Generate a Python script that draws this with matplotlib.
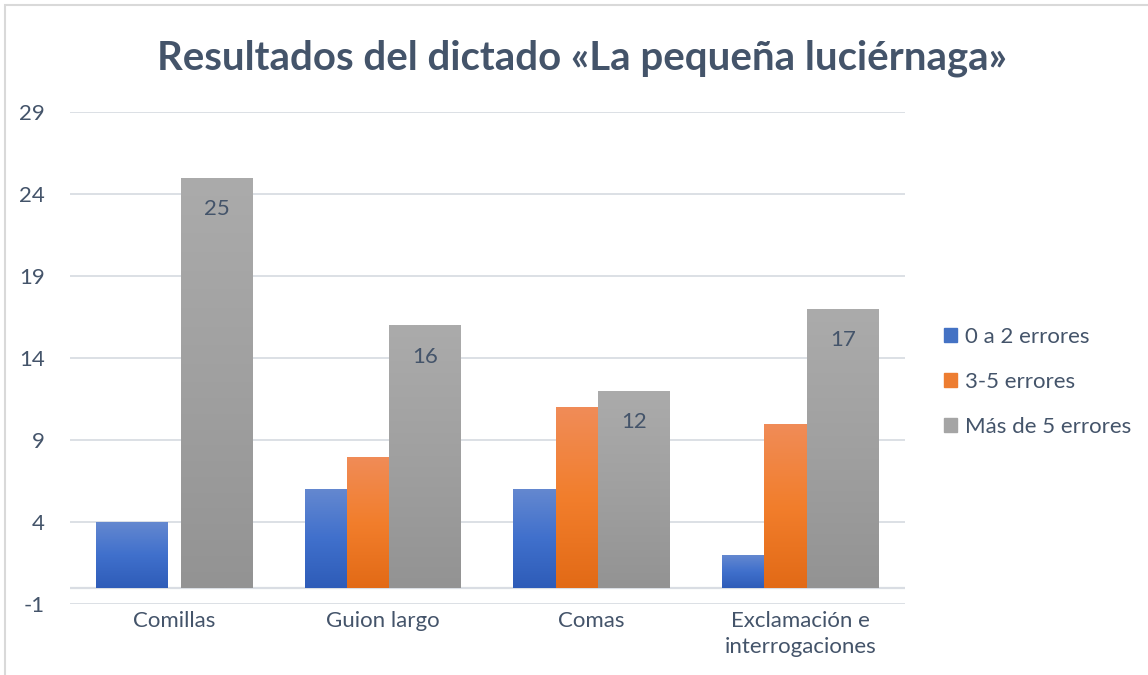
import numpy as np
import matplotlib
matplotlib.use("Agg")
import matplotlib.pyplot as plt
from matplotlib.colors import LinearSegmentedColormap
from matplotlib.patches import Rectangle

plt.rcParams['font.family'] = ['Lato', 'DejaVu Sans']
plt.rcParams['axes.unicode_minus'] = False

categories = ["Comillas", "Guion largo", "Comas", "Exclamación e\ninterrogaciones"]
series_names = ["0 a 2 errores", "3-5 errores", "Más de 5 errores"]
errors_0_2 = [4, 6, 6, 2]
errors_3_5 = [0, 8, 11, 10]
errors_more5 = [25, 16, 12, 17]
y_ticks = [-1, 4, 9, 14, 19, 24, 29]

TEXT = "#44546a"
GRID = "#d9dde3"

# top colour, middle, bottom colour of each bar gradient
gradients = [
    ("#6488d0", "#4070cc", "#2e5cb8"),
    ("#f08c58", "#f27e2c", "#e26a16"),
    ("#ababab", "#a0a0a0", "#939393"),
]
legend_colors = ["#4472c4", "#ed7d31", "#a5a5a5"]


def gradient_bars(ax, bars, colors):
    cmap = LinearSegmentedColormap.from_list("g", list(colors)[::-1])
    grad = np.linspace(0, 1, 256).reshape(-1, 1)
    for b in bars:
        h = b.get_height()
        if h <= 0:
            continue
        x0 = b.get_x()
        im = ax.imshow(grad, cmap=cmap, origin="lower", aspect="auto",
                       extent=(x0, x0 + b.get_width(), 0, h), zorder=b.get_zorder())
        im.set_clip_path(b)
        b.set_facecolor("none")


fig = plt.figure(figsize=(11.48, 6.75), dpi=100)
ax = fig.add_axes([0.061, 0.105, 0.727, 0.729])

x = np.arange(len(categories))
width = 0.345
step = 0.2035
all_series = [errors_0_2, errors_3_5, errors_more5]
for i, vals in enumerate(all_series):
    bars = ax.bar(x + (i - 1) * step, vals, width, color=legend_colors[i],
                  zorder=3 + i, linewidth=0)
    gradient_bars(ax, bars, gradients[i])
    if i == 2:
        for b, v in zip(bars, vals):
            ax.text(b.get_x() + b.get_width() / 2, v - 1.3, str(v),
                    ha="center", va="top", fontsize=16, color=TEXT, zorder=10)

ax.set_xlim(-0.5, 3.5)
ax.set_ylim(-1, 29)
ax.set_yticks(y_ticks)
ax.set_xticks(x)
ax.set_xticklabels(categories, linespacing=1.4)
ax.tick_params(axis="both", length=0, labelsize=16, labelcolor=TEXT)
ax.tick_params(axis="y", pad=18)
ax.tick_params(axis="x", pad=5)
ax.grid(axis="y", color=GRID, linewidth=1.3, zorder=0)
ax.axhline(0, color=GRID, linewidth=1.6, zorder=2)
for s in ax.spines.values():
    s.set_visible(False)

fig.text(0.507, 0.913, "Resultados del dictado «La pequeña luciérnaga»",
         ha="center", va="center", fontsize=28.9, fontweight="bold", color=TEXT)

handles = [Rectangle((0, 0), 1, 1, color=c) for c in legend_colors]
fig.legend(handles, series_names, loc="center left", bbox_to_anchor=(0.8045, 0.434),
           frameon=False, fontsize=16, labelcolor=TEXT, handlelength=0.6,
           handleheight=0.6, handletextpad=0.35, labelspacing=1.13)

fig.patches.append(Rectangle((0.004, -0.01), 1.0, 1.003, transform=fig.transFigure,
                             fill=False, edgecolor="#d9d9d9", linewidth=1.5))

fig.savefig("out.png", dpi=100)
